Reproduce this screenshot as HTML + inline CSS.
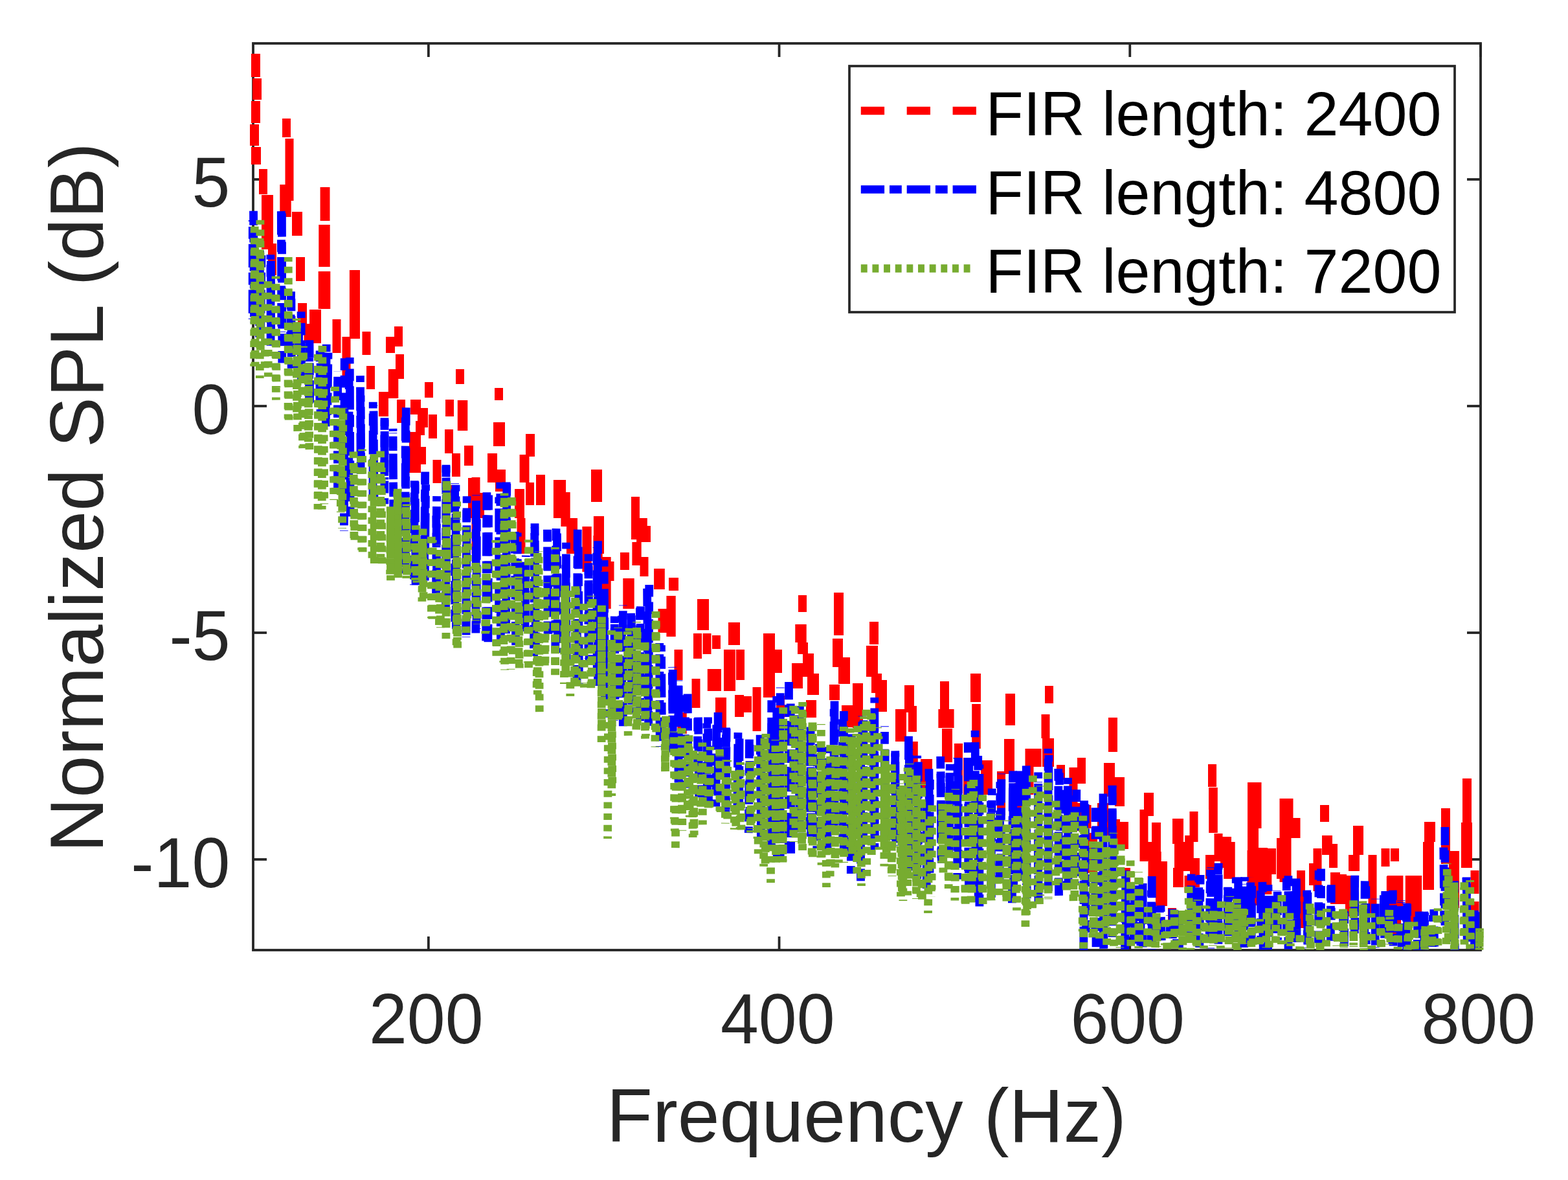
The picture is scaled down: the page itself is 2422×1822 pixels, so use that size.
<!DOCTYPE html>
<html><head><meta charset="utf-8"><style>
html,body{margin:0;padding:0;background:#fff;overflow:hidden}
svg{display:block}
text{font-family:"Liberation Sans",Arial,sans-serif;fill:#262626}
</style></head><body>
<svg width="2422" height="1822" viewBox="0 0 2422 1822">
<rect x="0" y="0" width="2422" height="1822" fill="#fff"/>
<g id="axes"><rect x="391.0" y="67.0" width="1896.0" height="1400.0" fill="none" stroke="#262626" stroke-width="3.8"/><line x1="661.86" y1="1467.0" x2="661.86" y2="1446.0" stroke="#262626" stroke-width="3.8"/><line x1="661.86" y1="67.0" x2="661.86" y2="88.0" stroke="#262626" stroke-width="3.8"/><line x1="1203.57" y1="1467.0" x2="1203.57" y2="1446.0" stroke="#262626" stroke-width="3.8"/><line x1="1203.57" y1="67.0" x2="1203.57" y2="88.0" stroke="#262626" stroke-width="3.8"/><line x1="1745.29" y1="1467.0" x2="1745.29" y2="1446.0" stroke="#262626" stroke-width="3.8"/><line x1="1745.29" y1="67.0" x2="1745.29" y2="88.0" stroke="#262626" stroke-width="3.8"/><line x1="2287.00" y1="1467.0" x2="2287.00" y2="1446.0" stroke="#262626" stroke-width="3.8"/><line x1="2287.00" y1="67.0" x2="2287.00" y2="88.0" stroke="#262626" stroke-width="3.8"/><line x1="391.0" y1="277.00" x2="412.0" y2="277.00" stroke="#262626" stroke-width="3.8"/><line x1="2287.0" y1="277.00" x2="2266.0" y2="277.00" stroke="#262626" stroke-width="3.8"/><line x1="391.0" y1="627.00" x2="412.0" y2="627.00" stroke="#262626" stroke-width="3.8"/><line x1="2287.0" y1="627.00" x2="2266.0" y2="627.00" stroke="#262626" stroke-width="3.8"/><line x1="391.0" y1="977.00" x2="412.0" y2="977.00" stroke="#262626" stroke-width="3.8"/><line x1="2287.0" y1="977.00" x2="2266.0" y2="977.00" stroke="#262626" stroke-width="3.8"/><line x1="391.0" y1="1327.00" x2="412.0" y2="1327.00" stroke="#262626" stroke-width="3.8"/><line x1="2287.0" y1="1327.00" x2="2266.0" y2="1327.00" stroke="#262626" stroke-width="3.8"/></g>
<g id="data"><defs><clipPath id="cp"><rect x="383" y="60" width="1912" height="1407"/></clipPath></defs><g clip-path="url(#cp)" fill="none" stroke-width="12.8"><path d="M388.0,83h14.0V119h-14.0ZM390.0,121h14.0V154h-14.0ZM388.0,156h14.0V190h-14.0ZM386.0,192h14.0V225h-14.0ZM388.0,227h15.0V254h-15.0ZM400.0,261h13.0V300h-13.0ZM404.0,301h18.0V385h-18.0ZM414.0,376h13.0V425h-13.0ZM436.0,183h13.0V212h-13.0ZM440.5,214h13.0V310h-13.0ZM432.3,285h17.4V335h-17.4ZM451.0,327h16.0V364h-16.0ZM457.0,397h14.0V434h-14.0ZM494.6,289h14.9V341h-14.9ZM492.3,347h17.4V412h-17.4ZM491.7,419h18.6V477h-18.6ZM539.9,417h16.1V523h-16.1ZM460.0,468h14.0V500h-14.0ZM478.0,478h18.0V530h-18.0ZM469.5,500h13.0V530h-13.0ZM513.5,493h13.0V545h-13.0ZM528.5,520h13.0V583h-13.0ZM728.5,737h13.0V855h-13.0ZM866.4,760h14.3V813h-14.3ZM875.0,800h13.0V855h-13.0ZM913.0,725h17.0V775h-17.0ZM916.9,797h16.1V855h-16.1ZM975.0,767h13.0V833h-13.0ZM990.0,812h15.0V837h-15.0ZM798.5,800h13.0V855h-13.0ZM878.0,800h14.0V833h-14.0ZM899.4,813h14.3V883h-14.3ZM916.4,827h14.3V900h-14.3ZM929.4,860h14.3V940h-14.3ZM935.5,867h13.0V897h-13.0ZM958.0,853h14.0V880h-14.0ZM976.4,837h14.3V873h-14.3ZM983.1,800h16.7V837h-16.7ZM988.5,860h13.0V890h-13.0ZM962.3,893h17.4V940h-17.4ZM1010.1,878h16.7V910h-16.7ZM1033.0,892h15.0V912h-15.0ZM1016.5,940h13.0V977h-13.0ZM1029.4,920h14.3V983h-14.3ZM1077.0,925h18.0V973h-18.0ZM1071.0,978h13.0V1017h-13.0ZM1085.5,978h13.0V1010h-13.0ZM1041.5,1003h13.0V1050h-13.0ZM1068.5,1048h13.0V1093h-13.0ZM1092.8,1033h15.5V1067h-15.5ZM1105.0,1077h17.0V1127h-17.0ZM1046.4,1100h14.3V1133h-14.3ZM1125.0,961h18.0V996h-18.0ZM1118.0,1003h18.0V1067h-18.0ZM1137.0,1003h13.0V1050h-13.0ZM1100.0,1033h14.0V1067h-14.0ZM1100.0,981h13.0V1002h-13.0ZM1109.0,1078h13.0V1126h-13.0ZM1135.0,1073h14.0V1107h-14.0ZM1148.0,1075h13.0V1100h-13.0ZM1162.5,1061h13.0V1129h-13.0ZM1179.0,978h18.0V1077h-18.0ZM1195.0,1003h13.0V1039h-13.0ZM1199.0,1074h13.0V1108h-13.0ZM1228.3,964h17.4V992h-17.4ZM1232.0,992h16.0V1010h-16.0ZM1223.0,1024h17.0V1063h-17.0ZM1233.0,919h13.0V945h-13.0ZM1240.0,1009h17.0V1045h-17.0ZM1247.0,1040h18.0V1073h-18.0ZM1245.0,1081h16.0V1108h-16.0ZM1281.0,1057h16.0V1081h-16.0ZM1288.0,915h15.0V981h-15.0ZM1286.0,986h16.0V1030h-16.0ZM1295.0,1020h18.0V1056h-18.0ZM1317.0,1055h16.0V1124h-16.0ZM1338.0,997h18.0V1045h-18.0ZM1346.0,1040h16.0V1070h-16.0ZM1352.0,1050h18.0V1099h-18.0ZM1343.0,960h14.0V995h-14.0ZM1397.0,1058h15.0V1100h-15.0ZM1383.0,1095h17.0V1145h-17.0ZM1403.0,1090h13.0V1130h-13.0ZM1452.0,1052h14.0V1095h-14.0ZM1449.4,1095h24.2V1124h-24.2ZM1499.0,1040h16.0V1084h-16.0ZM1501.2,1087h13.6V1156h-13.6ZM1553.0,1071h15.0V1120h-15.0ZM1553.0,1142h13.0V1190h-13.0ZM1583.5,1156h13.0V1227h-13.0ZM1422.0,1172h18.0V1227h-18.0ZM1474.0,1149h13.0V1190h-13.0ZM1517.0,1174h16.0V1212h-16.0ZM1404.2,1145h13.6V1236h-13.6ZM1474.0,1148h13.0V1225h-13.0ZM1488.0,1170h13.0V1236h-13.0ZM1515.0,1175h18.0V1227h-18.0ZM1540.0,1191h13.0V1259h-13.0ZM1567.0,1209h13.0V1277h-13.0ZM1551.0,1141h16.0V1195h-16.0ZM1583.5,1157h13.0V1195h-13.0ZM1614.0,1059h13.0V1086h-13.0ZM1608.5,1103h13.0V1140h-13.0ZM1610.0,1140h18.0V1184h-18.0ZM1594.4,1156h14.3V1184h-14.3ZM1632.0,1181h13.0V1204h-13.0ZM1664.0,1170h13.0V1210h-13.0ZM1651.5,1185h13.0V1260h-13.0ZM1655.0,1240h15.0V1283h-15.0ZM1672.5,1243h13.0V1279h-13.0ZM1712.0,1108h14.0V1161h-14.0ZM1705.0,1178h17.0V1230h-17.0ZM1695.0,1240h17.0V1290h-17.0ZM1722.0,1200h15.0V1245h-15.0ZM1712.0,1265h18.0V1308h-18.0ZM1678.0,1286h17.0V1348h-17.0ZM1726.0,1269h17.0V1311h-17.0ZM1733.0,1340h13.0V1365h-13.0ZM1767.0,1224h15.0V1260h-15.0ZM1760.5,1250h13.0V1330h-13.0ZM1773.5,1300h13.0V1360h-13.0ZM1785.0,1330h18.0V1399h-18.0ZM1814.0,1265h14.0V1370h-14.0ZM1837.5,1253h13.0V1300h-13.0ZM1830.2,1290h13.6V1340h-13.6ZM1866.0,1180h13.0V1215h-13.0ZM1867.2,1216h13.6V1286h-13.6ZM1875.5,1287h13.0V1330h-13.0ZM1890.3,1300h17.4V1357h-17.4ZM1862.0,1320h14.0V1357h-14.0ZM1927.0,1208h17.0V1354h-17.0ZM1940.5,1320h13.0V1354h-13.0ZM1804.0,1402h13.0V1425h-13.0ZM1912.0,1396h13.0V1440h-13.0ZM1935.5,1208h13.0V1279h-13.0ZM1984.5,1233h13.0V1294h-13.0ZM1972.0,1294h18.0V1357h-18.0ZM1942.0,1309h16.0V1379h-16.0ZM1955.0,1310h16.0V1350h-16.0ZM2039.0,1243h14.0V1269h-14.0ZM2042.0,1290h16.0V1320h-16.0ZM2028.5,1310h13.0V1376h-13.0ZM2053.0,1303h13.0V1340h-13.0ZM2090.0,1275h16.0V1320h-16.0ZM2083.0,1320h17.0V1345h-17.0ZM2113.5,1320h13.0V1410h-13.0ZM2133.5,1310h13.0V1338h-13.0ZM2148.0,1310h13.0V1330h-13.0ZM2055.0,1347h15.0V1396h-15.0ZM2070.0,1352h17.0V1396h-17.0ZM2142.6,1352h24.8V1410h-24.8ZM2179.4,1360h14.3V1402h-14.3ZM2200.0,1269h17.0V1300h-17.0ZM2198.0,1300h17.0V1374h-17.0ZM2226.0,1248h14.0V1334h-14.0ZM2259.0,1202h14.0V1270h-14.0ZM2257.0,1270h17.0V1340h-17.0ZM2240.0,1314h14.0V1342h-14.0ZM1779.0,1270h14.0V1330h-14.0ZM1779.4,1315h14.3V1345h-14.3ZM1811.0,1264h17.0V1303h-17.0ZM1819.7,1300h18.6V1345h-18.6ZM1812.0,1340h13.0V1370h-13.0ZM1838.0,1325h15.0V1370h-15.0ZM1867.0,1217h13.0V1250h-13.0ZM1885.0,1292h17.0V1340h-17.0ZM1926.5,1313h18.0V1398h-18.0ZM1948.8,1310h15.5V1381h-15.5ZM1976.5,1233h18.0V1362h-18.0ZM1829.5,1352h13.0V1378h-13.0ZM1995.5,1263h13.0V1294h-13.0ZM2003.0,1344h13.0V1433h-13.0ZM2022.0,1333h13.0V1367h-13.0ZM2065.0,1350h15.0V1380h-15.0ZM2078.0,1352h14.0V1415h-14.0ZM2141.8,1353h22.3V1448h-22.3ZM2170.8,1352h25.4V1427h-25.4ZM2238.0,1315h16.0V1402h-16.0ZM2271.5,1344h13.0V1380h-13.0ZM2271.5,1392h13.0V1423h-13.0ZM1300.0,1015h13.0V1055h-13.0ZM1300.0,1089h18.0V1123h-18.0ZM1455.0,1125h16.0V1177h-16.0ZM559.5,512h13.0V548h-13.0ZM609.0,504h13.0V535h-13.0ZM596.0,520h14.0V545h-14.0ZM566.0,565h13.0V601h-13.0ZM611.0,547h13.0V585h-13.0ZM599.8,570h15.5V615h-15.5ZM585.0,605h15.0V643h-15.0ZM613.0,617h13.0V653h-13.0ZM634.0,617h16.0V640h-16.0ZM645.0,630h16.0V660h-16.0ZM642.0,650h14.0V672h-14.0ZM662.0,640h13.0V677h-13.0ZM656.0,590h13.0V614h-13.0ZM632.0,667h18.0V730h-18.0ZM645.0,690h13.0V717h-13.0ZM668.5,710h13.0V746h-13.0ZM687.0,663h13.0V700h-13.0ZM698.0,700h13.0V736h-13.0ZM688.0,617h13.0V643h-13.0ZM706.8,618h15.5V665h-15.5ZM704.0,570h13.0V593h-13.0ZM717.0,688h14.0V719h-14.0ZM723.0,738h14.0V800h-14.0ZM684.5,749h18.0V778h-18.0ZM764.0,599h13.0V618h-13.0ZM762.0,652h18.0V689h-18.0ZM753.0,700h15.0V745h-15.0ZM765.0,725h16.0V759h-16.0ZM812.0,670h14.0V705h-14.0ZM802.6,702h14.9V745h-14.9ZM812.0,745h13.0V780h-13.0ZM828.0,733h14.0V780h-14.0ZM854.9,741h19.2V800h-19.2ZM795.0,755h15.0V800h-15.0ZM733.0,761h15.0V800h-15.0Z" fill="#ff0000" stroke="none"/><path d="M418.4,402.8L418.7,518.4M503.3,658.4L504.2,531.8M521.5,759.8L521.6,573.6M810.9,975.0L812.3,857.6M875.0,1020.7L873.9,872.2M1047.8,1058.6L1048.2,1208.0M1092.6,1239.8L1091.8,1116.6M1106.8,1119.4L1105.8,1245.5M1141.7,1245.9L1142.1,1140.6M1191.9,1116.7L1191.4,1308.9M1289.0,1082.4L1289.1,1273.0M1367.3,1157.7L1366.3,1287.5M1403.5,1136.7L1403.1,1334.7M1495.6,1345.0L1496.8,1180.3M1530.8,1369.7L1532.2,1217.6M1563.4,1394.3L1564.5,1190.4M1585.2,1182.4L1586.3,1392.3M1619.1,1197.6L1618.6,1343.3M1673.8,1467.0L1674.6,1236.2M1761.9,1460.3L1762.3,1367.3M1818.8,1406.0L1817.4,1452.2M1821.1,1407.1L1821.5,1463.3M1896.8,1369.7L1896.3,1438.5M1959.9,1383.1L1958.5,1466.2M1973.2,1376.7L1973.5,1451.6M2137.4,1382.4L2137.0,1441.2M2173.8,1458.5L2173.6,1394.5M2172.8,1466.8L2172.3,1394.8M2277.5,1465.6L2277.5,1405.7M1431.2,1372.0L1431.3,1226.3M1619.3,1376.0L1619.0,1156.0" stroke-dasharray="36.3 7.9 18.8 7.9" stroke-dashoffset="0.00" stroke="#0000ff"/><path d="M418.1,533.8L417.9,393.2M449.6,450.2L448.2,543.2M477.7,530.7L477.5,622.9M478.0,525.2L478.6,621.5M493.8,620.2L494.1,541.4M539.2,573.6L538.7,737.5M627.3,629.4L626.0,885.5M655.4,881.0L656.7,728.5M720.0,980.5L721.1,766.2M751.9,760.3L750.7,989.5M753.9,991.3L754.6,764.5M860.4,823.5L861.6,1008.1M891.0,1054.4L892.2,817.6M923.6,1058.9L923.5,835.3M999.6,908.8L1000.9,1097.9M1077.6,1191.2L1077.7,1109.1M1175.3,1290.0L1176.2,1144.9M1175.5,1298.1L1174.1,1134.8M1218.5,1052.9L1218.3,1304.6M1252.0,1122.5L1252.7,1293.5M1288.1,1283.4L1288.1,1094.7M1303.4,1317.1L1303.4,1098.0M1315.4,1135.6L1316.7,1285.4M1383.8,1301.4L1382.8,1159.4M1511.3,1393.1L1510.7,1167.0M1575.0,1190.5L1575.8,1364.9M1635.5,1382.9L1634.7,1183.0M1718.1,1213.0L1718.8,1419.6M1752.8,1457.3L1752.4,1379.3M1765.3,1462.4L1765.1,1359.1M2002.2,1356.5L2003.1,1455.3M2056.3,1366.3L2056.2,1431.6M2055.3,1452.8L2055.5,1368.3M2076.3,1461.2L2076.9,1403.1M2092.4,1354.7L2093.0,1435.6M2108.2,1360.4L2107.7,1457.6M2192.1,1407.5L2192.3,1448.5M2189.7,1415.7L2189.2,1466.9M2199.8,1407.6L2200.9,1463.3M2245.7,1453.7L2245.0,1375.1M2266.1,1437.0L2264.9,1355.3M2278.9,1408.2L2278.7,1447.4" stroke-dasharray="36.3 7.9 18.8 7.9" stroke-dashoffset="8.86" stroke="#0000ff"/><path d="M404.0,394.2L402.7,511.4M435.8,560.6L435.4,327.0M594.0,645.2L593.8,778.3M626.0,875.7L626.3,642.9M673.8,796.2L674.9,919.6M689.0,717.8L688.5,937.3M781.5,948.5L782.2,744.5M782.8,747.0L781.5,984.0M799.5,952.7L799.2,822.5M826.0,808.3L827.5,996.5M847.1,978.9L846.2,849.8M949.3,963.7L950.1,1098.2M1002.8,903.0L1001.6,1120.8M1121.2,1250.8L1121.5,1123.5M1265.5,1285.0L1265.5,1148.7M1333.5,1299.4L1334.0,1106.0M1349.5,1270.3L1348.9,1103.4M1418.4,1329.9L1418.3,1176.4M1435.6,1343.2L1436.4,1203.7M1692.9,1249.1L1693.0,1462.3M1921.6,1463.0L1920.2,1364.8M1990.0,1465.6L1989.9,1352.3M2040.5,1341.6L2040.3,1464.4M2163.2,1447.2L2164.1,1392.8M2199.6,1466.5L2200.8,1409.1M2232.0,1429.0L2232.0,1276.9M532.2,553.3L531.4,820.0M1507.3,1377.4L1506.1,1128.0" stroke-dasharray="36.3 7.9 18.8 7.9" stroke-dashoffset="17.73" stroke="#0000ff"/><path d="M400.6,520.9L401.6,386.7M450.2,568.7L449.9,458.3M465.1,481.2L465.5,595.8M495.1,543.4L495.1,638.5M540.2,551.9L541.1,797.5M557.1,610.6L557.7,712.1M576.2,620.8L576.0,765.6M657.6,748.1L656.2,896.5M689.0,720.0L689.7,919.7M704.0,748.8L704.5,977.3M772.7,744.7L773.4,991.3M933.1,865.1L934.5,1107.7M974.7,946.9L975.8,1087.8M1021.4,996.3L1022.4,1123.8M1057.5,1214.8L1058.9,1073.4M1063.1,1216.6L1062.2,1071.5M1093.5,1107.5L1094.5,1238.9M1120.9,1260.6L1122.1,1124.9M1156.3,1286.1L1157.5,1141.7M1277.9,1153.2L1277.3,1292.6M1404.9,1344.2L1404.3,1157.0M1416.8,1357.0L1416.7,1166.8M1453.1,1191.4L1454.3,1332.8M1467.3,1179.9L1466.2,1306.1M1478.7,1357.7L1479.0,1169.9M1530.5,1236.9L1531.4,1385.8M1544.9,1207.3L1544.0,1360.5M1585.1,1204.6L1585.4,1366.4M1603.7,1192.4L1604.0,1394.7M1869.5,1342.9L1868.2,1442.4M1881.4,1340.5L1881.7,1440.2M1922.3,1449.3L1922.4,1354.2M1947.7,1454.4L1947.3,1375.1M1951.2,1466.3L1949.9,1361.8M1958.9,1366.1L1960.0,1438.2M2019.8,1458.6L2019.9,1377.9M2138.5,1448.5L2139.8,1376.0" stroke-dasharray="36.3 7.9 18.8 7.9" stroke-dashoffset="26.59" stroke="#0000ff"/><path d="M608.1,843.1L607.0,661.9M606.9,668.4L608.4,840.3M719.9,983.8L720.7,787.2M736.1,970.9L736.3,796.0M894.4,1055.6L893.3,844.5M921.9,845.0L922.2,1035.3M948.2,1112.6L949.3,951.6M1038.3,1029.9L1039.4,1161.7M1048.0,1050.6L1048.2,1208.5M1205.2,1061.6L1205.2,1327.6M1250.9,1289.1L1249.9,1129.2M1262.4,1155.7L1261.8,1310.0M1277.9,1179.9L1278.1,1316.6M1366.5,1121.3L1366.0,1299.9M1564.5,1200.5L1565.7,1376.9M1691.6,1446.2L1692.1,1247.2M1739.7,1448.5L1738.4,1343.4M1807.2,1412.9L1807.2,1449.0M1811.4,1457.7L1810.9,1403.5M1932.4,1434.2L1931.5,1354.5M1972.0,1374.8L1970.7,1441.0M2124.2,1463.2L2124.4,1395.6M2124.3,1387.7L2124.2,1460.5M2164.1,1390.4L2165.1,1464.2M1351.2,1307.0L1350.8,1077.0" stroke-dasharray="36.3 7.9 18.8 7.9" stroke-dashoffset="35.45" stroke="#0000ff"/><path d="M461.4,569.9L461.6,501.6M641.1,743.5L642.1,903.2M846.1,978.2L845.4,809.9M859.0,816.1L857.8,1000.9M989.4,936.4L988.5,1113.3M989.4,1099.0L988.4,938.3M1079.8,1231.1L1078.5,1107.6M1109.2,1228.6L1109.1,1099.9M1158.0,1264.6L1158.1,1149.9M1191.1,1312.6L1191.8,1078.9M1221.7,1317.8L1221.2,1086.2M1434.9,1187.3L1436.1,1357.9M1452.7,1168.0L1453.9,1325.0M1496.5,1374.7L1495.2,1146.3M1512.9,1399.6L1512.9,1180.4M1636.4,1193.2L1637.3,1343.5M1650.1,1372.5L1649.3,1213.5M1662.8,1219.3L1662.3,1353.0M1677.6,1439.8L1676.2,1241.9M1852.8,1463.0L1854.1,1351.0M1896.1,1445.1L1896.3,1370.3M1933.1,1457.6L1933.8,1361.7M1987.3,1356.2L1987.3,1440.1M2001.7,1445.5L2002.2,1359.1M2036.5,1456.1L2037.1,1344.0M2092.8,1351.7L2092.2,1445.6M2109.8,1368.4L2110.3,1466.7M2152.1,1460.5L2151.3,1374.6M2214.8,1404.1L2215.6,1461.7M2229.8,1308.5L2230.8,1425.1M2266.2,1454.0L2265.2,1354.5" stroke-dasharray="36.3 7.9 18.8 7.9" stroke-dashoffset="44.31" stroke="#0000ff"/><path d="M507.0,544.6L505.7,640.6M521.5,706.2L521.7,588.9M556.4,580.1L557.2,732.4M594.1,648.3L593.9,740.6M770.8,767.5L770.6,945.9M874.5,837.7L874.1,999.5M910.2,1021.0L908.9,866.6M960.4,950.8L960.9,1109.9M976.2,1102.0L975.3,946.6M1140.0,1131.1L1138.9,1246.4M1301.7,1297.0L1301.5,1110.5M1315.0,1133.4L1314.3,1349.0M1350.9,1311.9L1350.5,1109.8M1465.8,1339.9L1467.0,1193.3M1480.3,1322.1L1480.2,1168.3M1619.9,1166.1L1620.1,1335.2M1649.5,1201.0L1648.4,1368.2M1661.6,1228.1L1660.7,1363.7M1703.4,1241.9L1704.9,1465.9M1718.0,1446.9L1718.0,1212.7M1739.0,1344.2L1737.5,1465.9M1751.2,1448.0L1749.8,1365.2M1778.5,1374.8L1778.4,1451.4M1792.9,1398.2L1794.3,1456.0M1791.3,1399.2L1791.5,1447.1M1840.2,1349.7L1838.8,1444.3M1839.6,1452.3L1840.9,1366.2M1851.7,1352.6L1852.3,1461.9M1882.1,1332.7L1881.9,1462.3M1908.8,1452.5L1909.2,1354.8M2018.7,1374.6L2019.7,1464.0M2150.8,1457.5L2149.9,1370.1M2213.3,1413.1L2212.5,1461.9M2247.3,1466.9L2246.5,1360.2M1199.7,1075.0L1200.2,1330.0M1329.7,1137.7L1329.5,1368.0" stroke-dasharray="36.3 7.9 18.8 7.9" stroke-dashoffset="53.18" stroke="#0000ff"/><path d="M392.6,498.4L391.5,325.7M390.1,492.7L390.3,339.9M434.8,513.1L434.3,319.8M577.0,625.8L577.9,768.5M639.5,903.3L640.3,742.2M673.5,924.9L674.6,766.1M702.6,746.3L702.9,964.0M735.5,764.2L734.9,977.4M796.7,1005.1L795.3,821.0M811.8,968.0L810.6,867.9M825.8,814.3L824.5,1013.1M908.9,1017.1L909.1,855.5M933.2,910.6L932.4,1052.2M962.3,934.4L962.3,1121.2M1019.2,1153.0L1018.7,992.9M1038.7,1150.0L1039.2,1029.7M1204.3,1098.9L1203.9,1291.4M1234.3,1292.4L1235.4,1090.1M1234.0,1104.1L1235.3,1285.3M1331.9,1105.6L1331.9,1293.3M1381.6,1305.7L1382.8,1161.0M1546.9,1194.4L1545.8,1349.1M1576.8,1193.8L1576.5,1336.5M1603.7,1207.2L1603.3,1385.3M1704.4,1464.4L1704.0,1225.5M1779.3,1466.1L1779.2,1353.1M1869.8,1464.5L1870.8,1339.3M1912.9,1458.4L1912.6,1354.4M2074.2,1446.5L2074.8,1405.7" stroke-dasharray="36.3 7.9 18.8 7.9" stroke-dashoffset="62.04" stroke="#0000ff"/><path d="M401.2,367.9L401.3,583.9M527.2,630.9L526.3,791.1M613.7,758.5L614.9,897.3M722.3,821.5L721.8,961.0M719.9,977.3L719.2,814.0M736.9,874.7L737.4,963.6M841.4,1027.5L840.4,914.2M857.6,1042.3L857.3,845.0M872.6,904.2L873.9,1039.3M887.5,1056.3L888.7,901.7M890.8,1059.7L889.3,905.7M915.1,925.0L914.0,1061.3M929.4,934.8L929.5,1119.7M984.3,976.0L982.8,1126.6M996.2,991.9L997.4,1136.4M1158.0,1176.1L1159.5,1285.5M1171.3,1150.5L1170.0,1295.0M1198.6,1320.0L1197.8,1142.2M1198.6,1331.8L1198.4,1154.1M1239.6,1313.0L1238.7,1095.8M1255.3,1323.2L1255.2,1111.6M1294.0,1150.8L1295.4,1332.4M1338.8,1352.8L1338.0,1089.5M1439.8,1243.4L1439.0,1373.9M1465.9,1226.6L1465.6,1360.0M1490.9,1393.9L1491.1,1246.9M1500.0,1207.0L1500.0,1395.4M1554.7,1384.9L1555.6,1273.3M1571.4,1260.0L1570.5,1405.7M1594.4,1402.2L1595.8,1228.1M1674.7,1278.4L1673.6,1466.4M1720.5,1460.7L1721.6,1306.7M1731.3,1325.5L1730.1,1465.2M1802.4,1420.3L1802.7,1465.5M1841.0,1392.0L1841.6,1454.2M1838.9,1393.1L1838.9,1466.5M1886.3,1391.8L1885.9,1464.5M1918.2,1457.9L1919.7,1402.8M1971.2,1392.8L1969.9,1463.3M2024.4,1464.4L2024.8,1394.9M2066.0,1408.7L2066.3,1457.9M2133.6,1462.4L2132.9,1413.0M2160.4,1426.6L2158.9,1465.8M2175.6,1426.1L2174.1,1466.4M2210.1,1433.1L2209.9,1466.5M2221.0,1459.7L2221.0,1402.4M705.9,831.7L706.7,1007.0M1329.1,1134.5L1330.5,1368.0M1394.9,1195.0L1394.9,1391.0M1503.8,1204.0L1503.2,1358.0M1835.9,1369.0L1837.2,1453.9" stroke-dasharray="9.9 7.75" stroke-dashoffset="0.00" stroke="#77ac30"/><path d="M394.1,565.6L393.7,372.1M401.9,339.7L402.3,549.4M445.2,397.0L446.1,648.6M445.1,646.5L445.2,434.5M491.9,569.2L491.0,786.5M517.5,597.0L518.2,759.4M547.9,833.8L547.2,718.5M560.2,852.3L559.6,693.7M589.1,722.0L590.2,877.0M602.6,886.8L603.6,783.8M642.3,811.2L643.8,899.6M689.2,961.6L689.9,739.9M751.9,871.2L750.8,975.8M790.9,773.8L792.3,1014.5M802.3,1031.5L801.1,890.3M801.2,1024.8L800.0,866.0M830.4,860.7L829.1,1062.8M830.3,1072.6L830.2,848.9M929.3,962.6L929.1,1148.1M944.5,973.3L945.8,1209.4M970.2,1135.9L969.4,975.1M970.6,1112.8L972.0,969.9M1027.5,1191.1L1027.0,1109.4M1072.2,1289.5L1070.9,1157.3M1085.4,1273.4L1084.8,1146.5M1111.9,1252.3L1111.5,1149.3M1171.2,1318.2L1171.1,1174.5M1239.7,1084.0L1238.5,1306.1M1303.2,1122.0L1303.6,1331.9M1313.0,1124.6L1313.7,1318.5M1346.3,1320.1L1345.7,1097.7M1346.6,1103.2L1345.9,1319.8M1401.8,1382.6L1402.1,1185.2M1465.2,1372.1L1465.4,1224.0M1530.6,1267.9L1531.2,1390.4M1569.4,1393.5L1568.5,1260.2M1585.4,1412.8L1584.8,1246.4M1630.8,1367.0L1631.0,1228.8M1634.2,1363.4L1633.1,1249.9M1660.1,1254.3L1659.8,1387.6M1689.4,1440.9L1688.8,1300.8M1687.8,1447.5L1688.5,1293.9M1746.8,1347.0L1747.5,1449.5M1813.9,1404.8L1813.9,1466.4M1898.0,1458.0L1898.6,1391.0M1910.4,1387.8L1909.1,1463.8M1971.4,1395.7L1970.4,1460.3M2105.5,1396.5L2106.5,1467.0M2177.2,1465.6L2175.7,1422.8M2183.9,1423.6L2185.4,1465.7M2246.3,1466.3L2246.0,1366.9M2270.7,1464.9L2269.7,1373.2M2285.1,1462.0L2285.5,1432.0" stroke-dasharray="9.9 7.75" stroke-dashoffset="2.94" stroke="#77ac30"/><path d="M392.6,565.5L393.2,349.4M410.4,440.6L409.0,575.0M426.0,426.5L427.0,598.1M426.4,617.6L425.4,442.9M467.6,692.1L466.6,540.9M469.0,689.8L468.5,534.5M491.3,762.9L491.4,540.2M558.7,849.4L557.6,698.6M627.7,893.0L627.2,768.1M641.6,895.9L640.3,827.6M653.2,832.0L654.3,927.5M668.3,833.8L667.8,955.8M706.4,987.9L705.6,774.5M749.7,978.5L751.0,869.9M765.8,834.0L766.8,1012.8M766.8,852.8L767.1,1011.8M779.0,761.5L777.8,1023.1M816.5,833.4L815.2,1023.4M857.5,864.1L857.6,1041.8M944.8,1229.1L945.1,990.6M1053.4,1125.1L1053.5,1257.0M1143.4,1177.0L1143.1,1279.2M1179.6,1337.9L1181.0,1137.0M1210.0,1120.9L1209.0,1330.1M1269.0,1335.7L1269.6,1161.1M1322.8,1132.9L1323.8,1352.3M1334.6,1106.3L1334.5,1317.5M1357.1,1137.0L1357.8,1312.1M1454.7,1332.9L1455.6,1241.1M1672.2,1438.2L1672.8,1259.6M1773.6,1404.8L1772.3,1462.2M1827.1,1406.1L1826.9,1459.3M1863.1,1399.2L1861.7,1464.4M1885.3,1464.1L1884.5,1400.7M1911.5,1466.8L1910.6,1396.3M1934.3,1419.7L1935.7,1467.0M1945.7,1418.9L1945.1,1459.9M2008.8,1466.5L2008.6,1441.3M2007.5,1465.5L2008.1,1435.9M2104.9,1391.3L2106.3,1462.7M2118.6,1464.0L2117.9,1410.2M2117.8,1412.7L2118.8,1465.3M2146.8,1415.7L2147.9,1457.7M2200.7,1466.2L2201.8,1430.3M2261.4,1370.3L2261.0,1453.4M2285.0,1466.7L2285.5,1433.3M880.8,1075.0L881.5,907.6M939.9,1032.5L938.6,1295.0M1433.5,1410.0L1434.9,1260.4" stroke-dasharray="9.9 7.75" stroke-dashoffset="5.88" stroke="#77ac30"/><path d="M458.6,645.2L458.2,491.7M500.8,778.4L499.6,564.2M515.7,771.9L515.2,627.4M530.0,629.7L528.5,815.9M614.8,891.7L614.3,754.7M680.4,969.3L680.4,849.1M706.0,801.1L705.1,999.1M734.8,958.4L734.8,867.8M779.6,1034.5L779.3,761.7M789.1,1033.8L790.4,765.6M842.8,899.1L841.9,1028.7M899.4,1055.2L900.4,947.8M912.9,920.0L912.8,1068.4M954.7,968.9L954.4,1117.6M983.5,960.1L984.4,1124.1M1011.9,1153.6L1013.3,951.5M1041.0,1129.4L1042.3,1283.2M1042.7,1129.8L1041.3,1264.6M1053.9,1282.8L1052.7,1124.2M1112.0,1167.6L1113.1,1253.8M1120.3,1271.7L1121.6,1173.1M1143.8,1194.2L1145.1,1281.3M1160.5,1279.9L1160.5,1177.4M1225.9,1300.1L1225.7,1089.8M1268.4,1118.1L1267.8,1324.3M1302.7,1142.7L1302.5,1322.0M1355.6,1123.0L1354.2,1291.4M1369.4,1325.4L1368.1,1181.3M1378.1,1353.0L1378.0,1190.2M1390.7,1209.5L1391.5,1384.3M1405.0,1179.1L1404.7,1363.1M1415.4,1388.1L1415.6,1197.6M1439.0,1251.6L1438.3,1384.1M1455.9,1242.5L1457.0,1347.4M1475.8,1218.3L1474.9,1390.5M1540.6,1257.6L1540.5,1380.0M1554.8,1266.8L1554.9,1399.0M1606.7,1213.5L1606.8,1383.1M1619.2,1385.9L1618.8,1203.4M1619.1,1388.2L1618.5,1192.4M1699.1,1441.9L1697.7,1284.8M1720.2,1285.9L1718.8,1451.4M1729.8,1463.5L1731.3,1302.2M1758.6,1346.2L1758.7,1464.2M1787.3,1462.1L1786.2,1409.9M1860.8,1398.2L1859.4,1464.4M1873.4,1460.4L1874.5,1404.3M1899.7,1383.8L1898.8,1464.5M1922.5,1457.1L1921.5,1404.0M1944.1,1420.3L1945.2,1464.3M1955.7,1463.5L1956.9,1409.4M2023.2,1466.2L2023.1,1395.2M2037.8,1411.6L2038.0,1462.3M2064.7,1460.6L2063.8,1406.9M2075.8,1463.7L2075.3,1403.1M2090.9,1461.9L2090.7,1389.2M2090.1,1393.7L2090.7,1459.5M2144.7,1458.5L2145.9,1404.9M2159.5,1464.2L2159.7,1424.0M2235.4,1333.2L2234.0,1457.9M1275.1,1178.0L1276.5,1370.0" stroke-dasharray="9.9 7.75" stroke-dashoffset="8.82" stroke="#77ac30"/><path d="M459.8,671.8L458.4,491.1M498.0,528.0L497.2,786.6M577.7,695.3L578.3,871.2M628.6,893.6L628.0,778.4M666.3,822.9L666.4,954.6M872.0,906.6L871.4,1056.0M956.2,1114.6L954.9,968.8M995.8,988.8L996.5,1140.6M1071.1,1156.9L1071.8,1283.9M1094.0,1253.3L1095.2,1168.8M1123.7,1270.4L1123.7,1173.9M1135.5,1189.3L1136.9,1280.1M1182.1,1339.4L1182.9,1133.0M1282.4,1179.9L1282.2,1353.2M1377.4,1174.3L1377.2,1348.4M1393.4,1382.2L1392.0,1214.6M1415.1,1193.8L1415.8,1380.3M1424.4,1394.7L1423.7,1210.0M1422.1,1391.2L1423.5,1207.7M1491.2,1401.7L1491.5,1221.4M1501.2,1384.3L1502.3,1223.8M1517.6,1221.3L1518.2,1399.1M1605.5,1402.0L1604.2,1220.2M1647.1,1378.9L1647.1,1262.0M1658.1,1397.0L1657.4,1252.5M1698.5,1455.2L1698.3,1308.0M1709.7,1464.9L1708.5,1285.7M1708.4,1308.9L1707.2,1442.2M1746.9,1466.7L1746.1,1328.6M1759.7,1459.8L1759.8,1348.9M1772.8,1466.9L1773.3,1400.2M1785.4,1412.0L1784.5,1466.9M1800.0,1415.5L1799.3,1459.3M1826.9,1404.1L1826.5,1466.6M1981.9,1393.4L1981.9,1457.1M2040.6,1400.0L2039.1,1467.0M2048.3,1413.5L2048.0,1458.2M2201.0,1429.1L2199.8,1465.5M2212.5,1462.0L2211.3,1427.2M2247.3,1466.5L2246.0,1358.1M2271.6,1456.3L2270.6,1359.0M833.3,1105.0L832.0,851.4M1043.3,1315.0L1044.6,1152.0M1190.7,1157.2L1190.5,1363.0" stroke-dasharray="9.9 7.75" stroke-dashoffset="11.77" stroke="#77ac30"/><path d="M414.0,431.2L414.3,581.8M476.4,557.7L477.9,694.1M476.4,563.5L476.3,690.9M547.0,833.8L545.9,693.8M575.0,864.6L574.7,706.9M587.6,693.5L587.9,860.6M603.3,779.4L603.5,896.3M653.2,813.5L651.9,928.8M678.4,968.1L679.3,841.1M690.0,744.7L688.9,986.2M817.6,841.6L816.5,1035.5M901.7,929.4L902.4,1061.6M1013.7,1133.4L1013.0,939.7M1027.5,1189.2L1028.6,1104.0M1063.0,1144.9L1062.2,1246.3M1063.9,1132.3L1065.3,1261.8M1083.0,1162.3L1082.4,1257.9M1095.8,1249.5L1096.9,1153.0M1135.3,1187.2L1134.2,1280.9M1209.8,1089.3L1208.9,1336.0M1228.2,1089.3L1229.0,1293.4M1254.1,1322.4L1255.0,1111.8M1282.6,1147.3L1283.3,1336.7M1291.0,1153.4L1289.8,1339.5M1316.8,1320.3L1315.6,1137.6M1324.7,1117.9L1325.8,1323.4M1366.9,1154.3L1365.8,1337.6M1475.2,1380.9L1474.5,1241.1M1517.0,1378.9L1517.2,1230.8M1530.6,1392.7L1529.8,1247.9M1543.4,1385.0L1542.1,1258.2M1585.1,1214.9L1586.6,1404.0M1595.4,1194.6L1594.7,1404.1M1647.5,1377.5L1646.6,1252.7M1814.0,1413.5L1814.9,1463.9M1848.8,1464.3L1850.0,1389.2M1848.5,1396.6L1847.9,1459.4M1873.6,1408.4L1874.5,1457.0M1932.2,1414.0L1932.9,1467.0M1960.3,1465.6L1960.5,1402.3M1979.9,1379.1L1979.4,1458.1M1993.8,1418.3L1993.3,1461.0M1991.9,1406.8L1991.7,1460.7M2048.4,1464.3L2049.3,1403.1M2074.5,1400.6L2075.5,1461.8M2133.1,1463.7L2132.0,1412.1M2185.8,1466.1L2184.4,1431.7M2219.1,1410.5L2219.3,1462.9M2237.4,1349.4L2237.2,1457.4M2261.8,1359.4L2262.0,1458.6M1069.3,1178.5L1070.2,1293.0M1583.9,1434.0L1584.0,1239.9" stroke-dasharray="9.9 7.75" stroke-dashoffset="14.71" stroke="#77ac30"/></g></g>
<g id="labels"><text transform="translate(570.00,1610.95) scale(0.9750,1)" font-size="108.50">200</text><text transform="translate(1113.03,1610.95) scale(0.9750,1)" font-size="108.50">400</text><text transform="translate(1653.42,1610.95) scale(0.9750,1)" font-size="108.50">600</text><text transform="translate(2195.40,1610.95) scale(0.9750,1)" font-size="108.50">800</text><text transform="translate(296.52,318.87) scale(0.9750,1)" font-size="108.50">5</text><text transform="translate(296.52,669.95) scale(0.9750,1)" font-size="108.50">0</text><text transform="translate(261.61,1018.87) scale(0.9750,1)" font-size="108.50">-5</text><text transform="translate(202.37,1369.95) scale(0.9750,1)" font-size="108.50">-10</text><text transform="translate(936.77,1763.24) scale(0.9926,1)" font-size="117.43">Frequency (Hz)</text><text transform="translate(159.14,1316.27) rotate(-90) scale(0.9978,1)" font-size="117.43">Normalized SPL (dB)</text></g>
<g id="legend"><rect x="1312" y="102" width="935" height="380" fill="#fff" stroke="#262626" stroke-width="3.7"/><line x1="1329.8" y1="171" x2="1507.9" y2="171" stroke="#ff0000" stroke-width="12.6" stroke-dasharray="36.3 34.6"/><text transform="translate(1522.48,209.46) scale(0.9783,1)" font-size="97.33" style="fill:#000">FIR length: 2400</text><line x1="1329.8" y1="292.5" x2="1507.9" y2="292.5" stroke="#0000ff" stroke-width="12.6" stroke-dasharray="36.3 7.9 18.8 7.9"/><text transform="translate(1522.48,330.86) scale(0.9783,1)" font-size="97.33" style="fill:#000">FIR length: 4800</text><line x1="1329.8" y1="414.5" x2="1500" y2="414.5" stroke="#77ac30" stroke-width="12.6" stroke-dasharray="9.9 7.75"/><text transform="translate(1522.48,452.26) scale(0.9783,1)" font-size="97.33" style="fill:#000">FIR length: 7200</text></g>
</svg>
</body></html>
